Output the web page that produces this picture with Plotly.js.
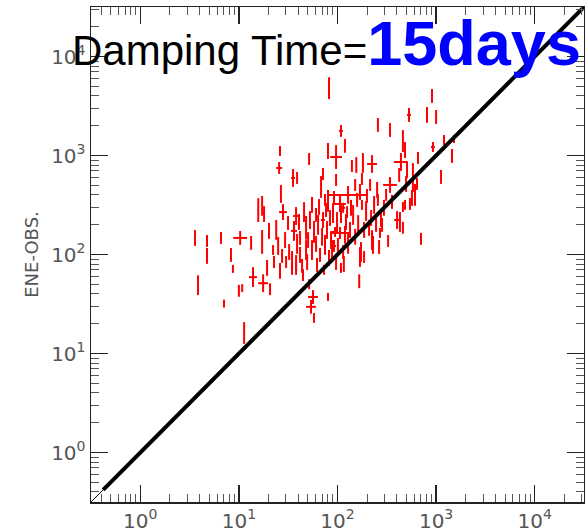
<!DOCTYPE html>
<html>
<head>
<meta charset="utf-8">
<script src="https://cdn.plot.ly/plotly-3.0.1.min.js"></script>
<style>
  html, body { margin: 0; padding: 0; background: #fff; }
  #chart { width: 585px; height: 531px; }
</style>
</head>
<body>
<div id="chart"></div>
<script>
// Observed value (x) vs. ENE estimate (y), one entry per event.
const obsX = [
  82.0, 909, 531, 809, 1000, 108.5, 257, 341, 461, 484,
  440, 1203, 929, 1520, 1450, 1122, 655, 507, 582, 26.1,
  25.6, 51.5, 80.1, 119, 96.7, 96.7, 35.4, 38.9, 26.7, 68.1,
  71.3, 140, 155, 181, 224, 177, 252, 341, 422, 496,
  582, 640, 543, 569, 402, 611, 276, 128, 15.7, 17.2,
  28.0, 38.0, 20.2, 80.1, 106, 90.0, 3.59, 4.75, 4.75, 6.58,
  10.3, 13.3, 8.31, 3.85, 8.70, 7.06, 10.0, 10.8, 11.3, 13.9,
  17.6, 20.7, 18.0, 17.2, 19.3, 20.2, 22.2, 23.9, 25.0, 26.1,
  31.5, 36.2, 40.7, 32.3, 34.6, 38.0, 41.7, 43.7, 48.0, 34.6,
  38.0, 56.4, 53.9, 57.8, 80.1, 166, 703, 326, 264, 270,
  283, 224, 173, 186, 116, 108.5, 94.4, 106, 114, 137,
  177, 195, 219, 484, 461, 430, 461, 88.0, 96.7, 119,
  169, 229, 45.8, 48.0, 50.3, 52.6, 55.1, 55.1, 57.8, 60.6,
  60.6, 63.5, 65.0, 66.5, 69.7, 71.3, 74.7, 76.5, 78.3, 82.0,
  84.0, 86.0, 92.2, 98.9, 101, 108.5, 114, 122, 128, 134,
  144, 151, 158, 162, 169, 186, 199, 209, 235, 246,
  257, 296, 311, 357, 41.7, 44.7, 49.2, 29.4, 27.4, 30.1,
  62.0, 73.0, 51.5, 22.7, 38.9, 92.2, 74.7, 125, 151, 214
];
const eneY = [
  4800, 4000, 2570, 2570, 2450, 1770, 2035, 1810, 1400, 1137,
  860, 1435, 1220, 1467, 989, 607, 944, 714, 714, 1111,
  748, 922, 1111, 1251, 965, 566, 593, 593, 409, 481,
  650, 784, 802, 841, 821, 579, 449, 504, 636, 516,
  492, 516, 324, 373, 223, 400, 223, 400, 281, 310,
  268, 245, 190, 348, 324, 262, 147, 137, 96.7, 147,
  147, 131, 99, 49, 71.5, 31.9, 43.0, 45.7, 16.1, 59.1,
  51.3, 44.6, 256, 134, 73.2, 169, 111, 177, 122, 68.4,
  208, 173, 213, 106, 88, 82.1, 99, 76.7, 111, 70,
  71.5, 37.2, 29.6, 22.9, 37.2, 53.7, 144, 137, 119, 165,
  199, 140, 106, 94.4, 80.2, 73.2, 169, 165, 296, 296,
  317, 275, 234, 317, 302, 213, 186, 111, 84.0, 158,
  94.4, 125, 268, 186, 140, 223, 317, 111, 169, 251,
  128, 199, 302, 99, 151, 223, 125, 281, 177, 92.4,
  234, 140, 373, 213, 122, 256, 106, 213, 128, 177,
  251, 151, 356, 203, 428, 177, 391, 186, 317, 199,
  356, 296, 400, 340, 147, 62, 84.0, 140, 96.7, 84.0,
  78.5, 70, 50.1, 84.0, 128, 122, 356, 268, 504, 504
];
// Half-length of each error bar, in dex (log10 units).
const eneErrDex = [
  .11, .07, .07, .08, .07, .06, .07, .07, .11, .08,
  .09, .05, .05, .04, .07, .07, .06, .08, .07, .05,
  .06, .06, .08, .07, .12, .06, .09, .06, .09, .11,
  .06, .06, .08, .10, .09, .06, .08, .08, .07, .08,
  .06, .06, .06, .08, .09, .11, .07, .09, .12, .10,
  .08, .09, .04, .11, .08, .10, .08, .06, .08, .06,
  .07, .07, .07, .10, .04, .04, .06, .04, .11, .10,
  .09, .06, .08, .12, .08, .07, .05, .10, .09, .08,
  .07, .10, .08, .08, .09, .08, .08, .07, .10, .05,
  .06, .07, .07, .05, .04, .07, .06, .06, .07, .05,
  .07, .10, .10, .06, .08, .05, .05, .06, .05, .08,
  .05, .10, .08, .05, .05, .10, .06, .10, .08, .09,
  .10, .09, .10, .12, .08, .09, .08, .10, .11, .07,
  .08, .10, .08, .07, .09, .08, .10, .07, .09, .08,
  .08, .09, .07, .10, .08, .09, .07, .08, .10, .08,
  .10, .08, .07, .09, .08, .08, .07, .08, .09, .07,
  .06, .08, .06, .07, .07, .06, .08, .08, .07, .06,
  .07, .05, .05, .06, .10, .06, .06, .06, .06, .06
];
const obsErrDex = [
  0, 0, .02, 0, 0, .02, 0, 0, 0, 0,
  .07, 0, .02, 0, 0, 0, 0, 0, 0, 0,
  .03, 0, 0, 0, .06, 0, .02, 0, 0, 0,
  0, 0, 0, 0, .05, 0, 0, .07, 0, 0,
  0, 0, 0, 0, .03, 0, 0, .20, 0, 0,
  .04, .03, 0, 0, .06, 0, 0, 0, 0, 0,
  .07, 0, 0, 0, 0, 0, 0, 0, 0, .04,
  .05, 0, 0, 0, 0, 0, 0, 0, 0, 0,
  0, .03, 0, 0, 0, 0, 0, 0, 0, 0,
  0, .05, .05, 0, 0, 0, 0, 0, 0, 0,
  0, .01, 0, 0, 0, 0, .03, .10, .02, 0,
  0, 0, 0, 0, 0, 0, 0, 0, 0, 0,
  0, 0, 0, 0, 0, 0, 0, 0, 0, 0,
  0, 0, 0, 0, 0, .02, 0, 0, 0, 0,
  0, 0, 0, 0, 0, 0, 0, 0, 0, 0,
  0, 0, 0, 0, 0, 0, 0, 0, 0, 0,
  0, 0, 0, 0, 0, 0, 0, 0, 0, 0,
  0, 0, 0, 0, 0, .02, 0, 0, 0, 0
];
// One-to-one reference line (thin stub near the origin, then the heavy line).
const unityThin = [0.316, 0.42];
const unityHeavy = [0.42, 31600];
const decadeVals = [1, 10, 100, 1000, 10000];
const decadeText = ['10<sup>0</sup>', '10<sup>1</sup>', '10<sup>2</sup>', '10<sup>3</sup>', '10<sup>4</sup>'];

// Convert dex half-widths into asymmetric data-unit errors for the log axes.
const up = (v, d) => v * (Math.pow(10, d) - 1);
const down = (v, d) => v * (1 - Math.pow(10, -d));

const barStyle = { type: 'data', symmetric: false, color: '#ff0000', thickness: 2, width: 0 };

const traces = [
  {
    type: 'scatter', mode: 'markers', x: obsX, y: eneY,
    marker: { size: 2, color: 'rgba(255,0,0,0)' },
    error_y: Object.assign({}, barStyle, {
      array: eneY.map((v, i) => up(v, eneErrDex[i])),
      arrayminus: eneY.map((v, i) => down(v, eneErrDex[i]))
    }),
    error_x: Object.assign({}, barStyle, {
      array: obsX.map((v, i) => up(v, obsErrDex[i])),
      arrayminus: obsX.map((v, i) => down(v, obsErrDex[i]))
    }),
    hoverinfo: 'skip', showlegend: false
  },
  {
    type: 'scatter', mode: 'lines', x: unityThin, y: unityThin,
    line: { color: '#000', width: 1 }, hoverinfo: 'skip', showlegend: false
  },
  {
    type: 'scatter', mode: 'lines', x: unityHeavy, y: unityHeavy,
    line: { color: '#000', width: 4 }, hoverinfo: 'skip', showlegend: false
  }
];

const axisBase = {
  type: 'log', range: [-0.5, 4.5], showgrid: false, zeroline: false,
  showline: true, linecolor: '#222', linewidth: 1.5, mirror: 'allticks',
  ticks: 'inside', ticklen: 17, tickwidth: 1.3, tickcolor: '#222',
  tickmode: 'array', tickvals: decadeVals, ticktext: decadeText,
  tickfont: { family: 'DejaVu Sans', size: 20, color: '#555' },
  minor: { ticks: 'inside', ticklen: 8, tickwidth: 1, tickcolor: '#555', dtick: 'D1' }
};

const layout = {
  width: 585, height: 531,
  margin: { l: 91, r: 1, t: 7, b: 29 },
  paper_bgcolor: '#fff', plot_bgcolor: '#fff',
  showlegend: false,
  title: {
    text: 'Damping Time=<span style="font-size:63px;color:#0000ff"><b>15days</b></span>',
    font: { family: 'Liberation Sans, Arial, sans-serif', size: 42, color: '#000' },
    xref: 'container', x: 0.123, xanchor: 'left',
    yref: 'container', y: 0.905, yanchor: 'middle'
  },
  xaxis: Object.assign({}, axisBase),
  yaxis: Object.assign({}, axisBase, {
    title: { text: 'ENE-OBS.', font: { family: 'DejaVu Sans', size: 18, color: '#555' }, standoff: 8 }
  })
};

Plotly.newPlot('chart', traces, layout, { displayModeBar: false, staticPlot: true });
</script>
</body>
</html>
